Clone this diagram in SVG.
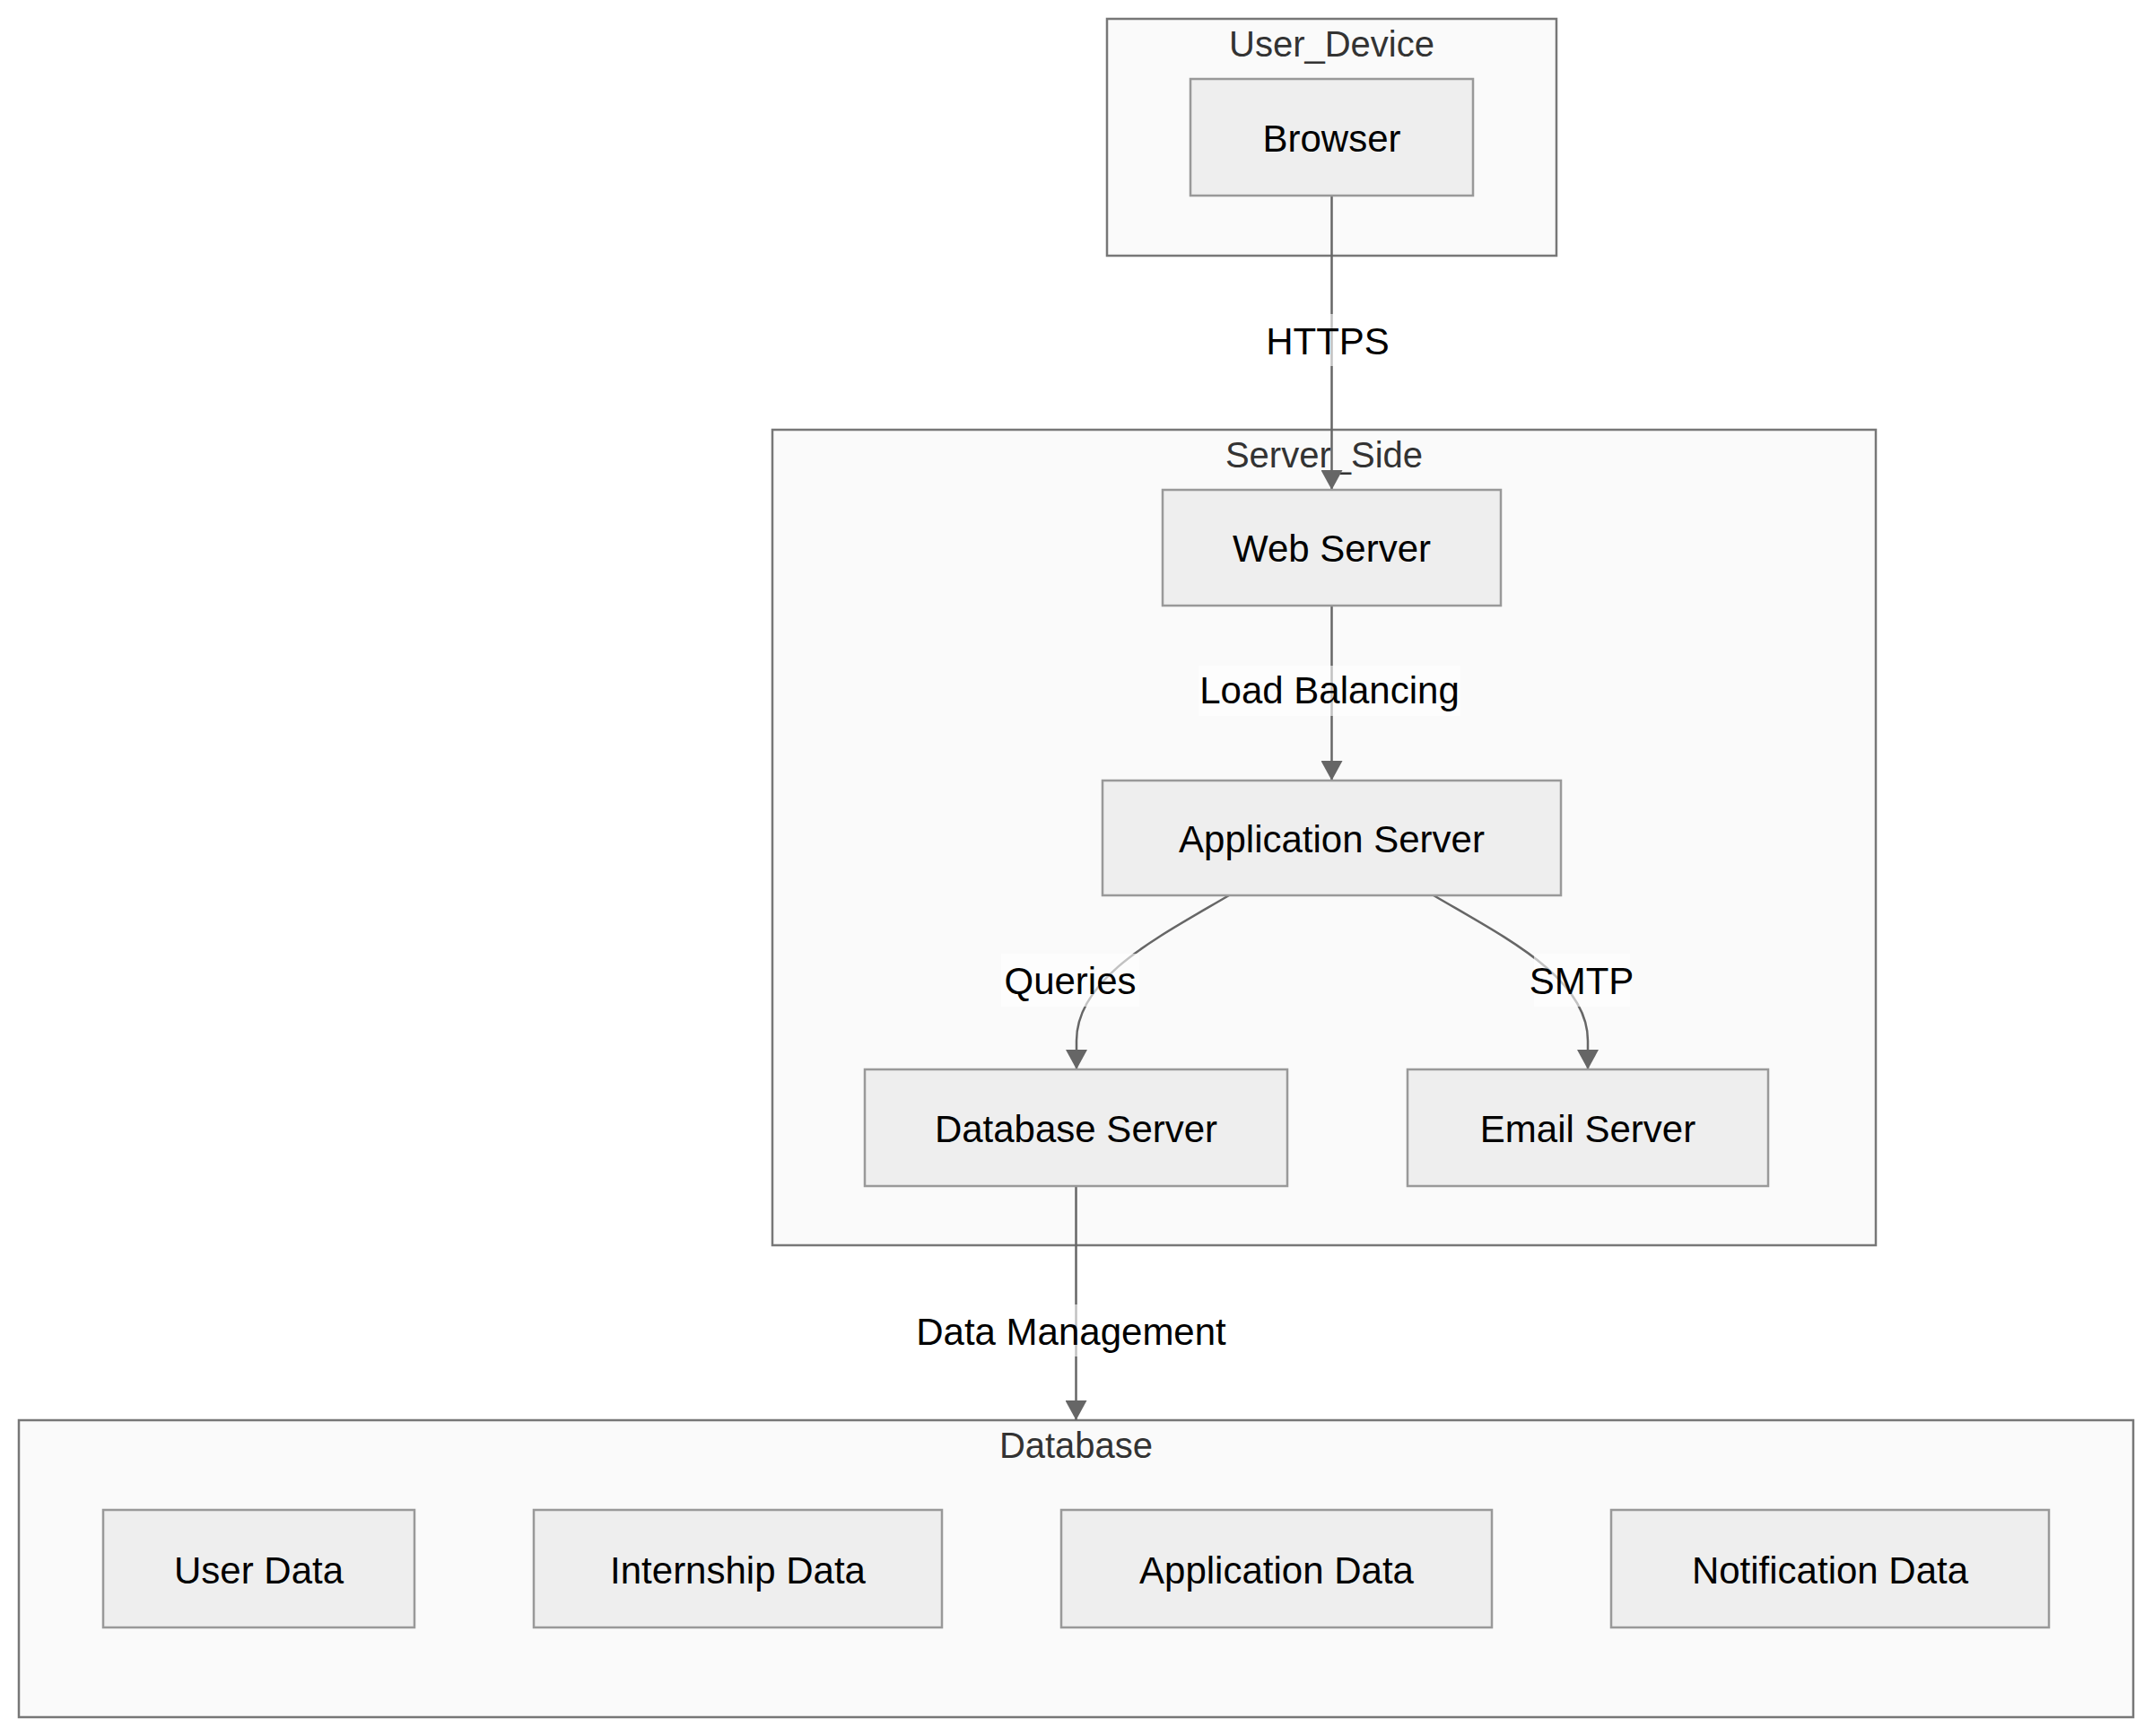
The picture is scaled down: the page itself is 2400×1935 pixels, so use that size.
<svg xmlns="http://www.w3.org/2000/svg" width="2400" height="1935" viewBox="0 0 2400 1935">
<defs>
<style>
.cluster{fill:#fafafa;stroke:#777;stroke-width:2.5}
.ctitle{font-family:"Liberation Sans",Arial,sans-serif;font-size:40px;fill:#333;text-anchor:middle}
.node rect{fill:#eeeeee;stroke:#999;stroke-width:2.5}
.node text{font-family:"Liberation Sans",Arial,sans-serif;font-size:42px;fill:#000;text-anchor:middle}
.edge{fill:none;stroke:#666;stroke-width:2.5;marker-end:url(#arrow)}
.lblbg{fill:#ffffff;fill-opacity:0.6}
.lbl{font-family:"Liberation Sans",Arial,sans-serif;font-size:42px;fill:#000;text-anchor:middle}
</style>
<marker id="arrow" markerUnits="userSpaceOnUse" markerWidth="22" markerHeight="24" refX="22" refY="12" orient="auto">
<path d="M0,0 L22,12 L0,24 z" fill="#666"/>
</marker>
</defs>
<rect x="0" y="0" width="2400" height="1935" fill="#ffffff"/>
<g id="clusters">
<g id="User_Device"><rect class="cluster" x="1234" y="21" width="501" height="264"/><text class="ctitle" x="1484.5" y="63">User_Device</text></g>
<g id="Server_Side"><rect class="cluster" x="861" y="479" width="1230" height="909"/><text class="ctitle" x="1476" y="521">Server_Side</text></g>
<g id="Database"><rect class="cluster" x="21" y="1583" width="2357" height="331"/><text class="ctitle" x="1199.5" y="1625">Database</text></g>
</g>
<g id="connectors">
<path class="edge" d="M1484.5,218 L1484.5,546"/>
<path class="edge" d="M1484.5,675 L1484.5,870"/>
<path class="edge" d="M1370,998 C1290,1045 1200,1090 1200,1160 L1200,1192"/>
<path class="edge" d="M1598,998 C1678,1045 1770,1090 1770,1160 L1770,1192"/>
<path class="edge" d="M1199.5,1322 L1199.5,1583"/>
<g id="edge-labels">
<rect class="lblbg" x="1420" y="350" width="120" height="58"/><text class="lbl" x="1480" y="395">HTTPS</text>
<rect class="lblbg" x="1336" y="742" width="292" height="56"/><text class="lbl" x="1482" y="784">Load Balancing</text>
<rect class="lblbg" x="1116" y="1063" width="154" height="59"/><text class="lbl" x="1193" y="1108">Queries</text>
<rect class="lblbg" x="1710" y="1063" width="107" height="59"/><text class="lbl" x="1763" y="1108">SMTP</text>
<rect class="lblbg" x="1022" y="1454" width="344" height="58"/><text class="lbl" x="1194" y="1499">Data Management</text>
</g>
</g>
<g id="Browser" class="node"><rect x="1327" y="88" width="315" height="130"/><text x="1484.5" y="169">Browser</text></g>
<g id="Web_Server" class="node"><rect x="1296" y="546" width="377" height="129"/><text x="1484.5" y="626">Web Server</text></g>
<g id="Application_Server" class="node"><rect x="1229" y="870" width="511" height="128"/><text x="1484.5" y="950">Application Server</text></g>
<g id="Database_Server" class="node"><rect x="964" y="1192" width="471" height="130"/><text x="1199.5" y="1273">Database Server</text></g>
<g id="Email_Server" class="node"><rect x="1569" y="1192" width="402" height="130"/><text x="1770" y="1273">Email Server</text></g>
<g id="User_Data" class="node"><rect x="115" y="1683" width="347" height="131"/><text x="288.5" y="1765">User Data</text></g>
<g id="Internship_Data" class="node"><rect x="595" y="1683" width="455" height="131"/><text x="822.5" y="1765">Internship Data</text></g>
<g id="Application_Data" class="node"><rect x="1183" y="1683" width="480" height="131"/><text x="1423" y="1765">Application Data</text></g>
<g id="Notification_Data" class="node"><rect x="1796" y="1683" width="488" height="131"/><text x="2040" y="1765">Notification Data</text></g>
</svg>
